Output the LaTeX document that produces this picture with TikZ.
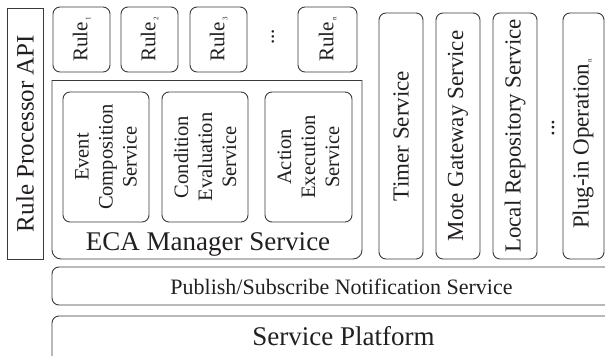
\documentclass[tikz,border=0pt]{standalone}
\usepackage{fontspec}
\setmainfont{Liberation Serif}
\definecolor{ink}{HTML}{231F20}
\definecolor{edge}{HTML}{3A3A3A}
\newcommand{\fs}[1]{\fontsize{#1}{#1}\selectfont}
\newcommand{\sbs}[1]{\hspace{1pt}\raisebox{-3pt}{\fontsize{7}{7}\selectfont #1}}
\begin{document}
\begin{tikzpicture}[x=1pt,y=-1pt,
  line width=0.9pt,
  box/.style={draw=edge, inner sep=0pt, rectangle},
  rbox/.style={box, rounded corners=7pt},
  vlab/.style={text=ink, rotate=90, inner sep=0pt, align=center},
  hlab/.style={text=ink, inner sep=0pt},
]
\useasboundingbox (0,0) rectangle (605,356);
\clip (0,0) rectangle (605,356);

% Rule Processor API
\node[box, minimum width=36pt, minimum height=251pt] (api) at (25,133.5) {};
\node[vlab, font=\fs{25}] (apil) at (api.center) {Rule Processor API};

% Rules
\node[rbox, minimum width=57pt, minimum height=65pt] (r1) at (81.5,39.5) {};
\node[rbox, minimum width=57pt, minimum height=65pt] (r2) at (149.5,39.5) {};
\node[rbox, minimum width=57pt, minimum height=65pt] (r3) at (218.5,39.5) {};
\node[rbox, minimum width=59pt, minimum height=65pt] (rn) at (327.5,39.5) {};
\node[vlab, font=\fs{21}] (r1l) at (r1.center) {Rule\sbs{1}};
\node[vlab, font=\fs{21}] (r2l) at (r2.center) {Rule\sbs{2}};
\node[vlab, font=\fs{21}] (r3l) at (r3.center) {Rule\sbs{3}};
\node[vlab, font=\fs{21}] (rnl) at (rn.center) {Rule\sbs{n}};
\node[vlab, font=\fs{21}] (rdots) at (273,37) {...};

% ECA Manager box
\coordinate (ecatl) at (52,80);
\coordinate (ecatr) at (362,80);
\draw[edge, rounded corners=9pt] (ecatl) -- (52,259) -- (362,259) -- (ecatr);
\draw[edge] (ecatl) -- (ecatr);
\node[hlab, font=\fs{27}, anchor=base] (ecal) at (208,250) {ECA Manager Service};

% inner services
\node[rbox, minimum width=86pt, minimum height=130pt] (ev) at (106,157) {};
\node[rbox, minimum width=86pt, minimum height=130pt] (co) at (205,157) {};
\node[rbox, minimum width=87pt, minimum height=130pt] (ac) at (308.5,157) {};
\node[vlab, font=\fontsize{20.5}{24}\selectfont] (evl) at (ev.center) {Event\\Composition\\Service};
\node[vlab, font=\fontsize{20.5}{24}\selectfont] (col) at (co.center) {Condition\\Evaluation\\Service};
\node[vlab, font=\fontsize{20.5}{24}\selectfont] (acl) at (ac.center) {Action\\Execution\\Service};

% right column services
\node[rbox, minimum width=44pt, minimum height=246pt] (tim) at (401,136) {};
\node[rbox, minimum width=44pt, minimum height=246pt] (mote) at (458,136) {};
\node[rbox, minimum width=44pt, minimum height=246pt] (loc) at (515,136) {};
\node[rbox, minimum width=41pt, minimum height=246pt] (plug) at (583.5,136) {};
\node[vlab, font=\fs{23}] (timl) at (tim.center) {Timer Service};
\node[vlab, font=\fs{23}] (motel) at (mote.center) {Mote Gateway Service};
\node[vlab, font=\fs{23}] (locl) at (loc.center) {Local Repository Service};
\node[vlab, font=\fs{23}] (plugl) at (583,144) {Plug-in Operation\sbs{n}};
\node[vlab, font=\fs{23}] (pdots) at (553,128) {...};

% Publish / Subscribe
\coordinate (psr1) at (640,267);
\coordinate (psr2) at (640,305);
\draw[edge, rounded corners=7pt] (psr1) -- (52,267) -- (52,305) -- (psr2);
\node[hlab, font=\fs{22}, anchor=base] (psl) at (341.5,294) {Publish/Subscribe Notification Service};

% Service Platform
\coordinate (spr) at (640,316);
\coordinate (spb) at (52,380);
\draw[edge, rounded corners=7pt] (spr) -- (52,316) -- (spb);
\node[hlab, font=\fs{27}, anchor=base] (spl) at (343.5,345) {Service Platform};
\end{tikzpicture}
\end{document}
